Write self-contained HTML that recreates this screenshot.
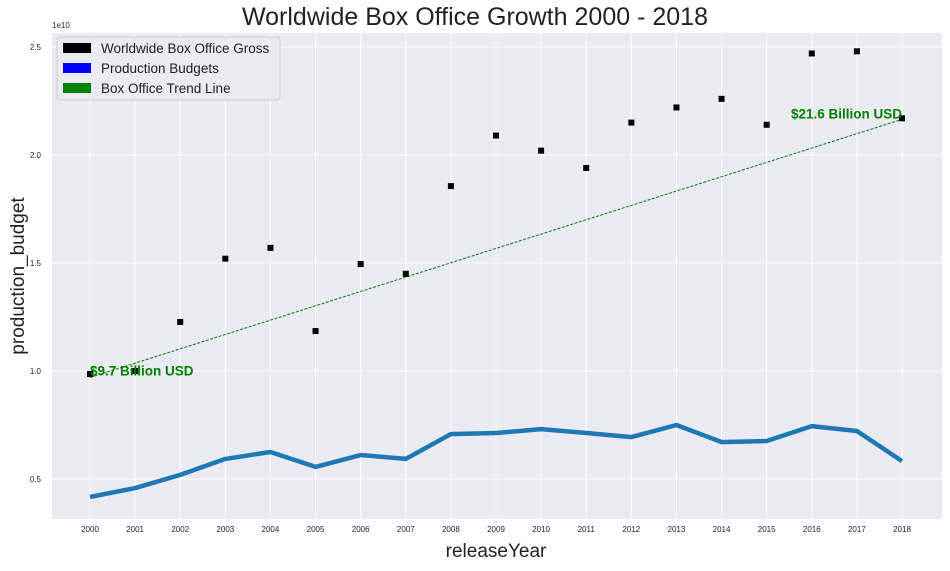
<!DOCTYPE html>
<html><head><meta charset="utf-8"><style>
body{margin:0;background:#fff;width:950px;height:566px;overflow:hidden;font-family:"Liberation Sans",sans-serif;}
</style></head><body>
<svg id="chart" width="950" height="566" xmlns="http://www.w3.org/2000/svg">
<rect x="52" y="33" width="890" height="486" fill="#eaeaf2"/>
<g id="grid"></g>
<g id="marks"></g>
<text x="475" y="25" text-anchor="middle" font-size="25" fill="#222">Worldwide Box Office Growth 2000 - 2018</text>
<text x="496" y="557" text-anchor="middle" font-size="19" fill="#222">releaseYear</text>
<text x="24" y="276" text-anchor="middle" font-size="19" fill="#222" transform="rotate(-90 24 276)">production_budget</text>
<text x="52" y="28" font-size="8" fill="#222">1e10</text>
<g>
<rect x="57" y="37" width="223" height="63" rx="3" fill="#eaeaf2" stroke="#ccc" opacity="0.9"/>
<rect x="63" y="43" width="28" height="10" fill="#000"/>
<text x="101" y="53" font-size="13.5" fill="#222">Worldwide Box Office Gross</text>
<rect x="63" y="63" width="28" height="10" fill="#0000ff"/>
<text x="101" y="73" font-size="13.5" fill="#222">Production Budgets</text>
<rect x="63" y="83" width="28" height="10" fill="#008000"/>
<text x="101" y="93" font-size="13.5" fill="#222">Box Office Trend Line</text>
</g>
</svg>
<script>
const years=[2000,2001,2002,2003,2004,2005,2006,2007,2008,2009,2010,2011,2012,2013,2014,2015,2016,2017,2018];
const gross=[0.986,1.0,1.227,1.52,1.57,1.185,1.495,1.45,1.856,2.09,2.02,1.94,2.15,2.22,2.26,2.14,2.47,2.48,2.17];
const budgets=[0.417,0.458,0.519,0.593,0.625,0.556,0.611,0.593,0.708,0.713,0.731,0.713,0.694,0.75,0.671,0.676,0.745,0.722,0.583];
const trend=[0.97,2.165];
const yTicks=[0.5,1.0,1.5,2.0,2.5];
const labels=["$9.7 Billion USD","$21.6 Billion USD"];
const NS="http://www.w3.org/2000/svg";
const xs=y=>90+(y-2000)*(902-90)/18;
const ys=v=>371-(v-1.0)*216;
const grid=document.getElementById('grid'),marks=document.getElementById('marks');
function mk(tag,attrs,parent){const e=document.createElementNS(NS,tag);for(const k in attrs)e.setAttribute(k,attrs[k]);parent.appendChild(e);return e;}
yTicks.forEach(t=>{
 const l=mk('line',{x1:52,x2:942,y1:ys(t),y2:ys(t),stroke:'#fff','stroke-width':1},grid);
 
 
 const tx=mk('text',{x:41,y:ys(t)+3,'text-anchor':'end','font-size':8,fill:'#222'},grid);
 tx.textContent=t.toFixed(1);
 
 
});
years.forEach(y=>{
 const l=mk('line',{x1:xs(y),x2:xs(y),y1:33,y2:519,stroke:'#fff','stroke-width':1},grid);
 
 
 const tx=mk('text',{x:xs(y),y:532,'text-anchor':'middle','font-size':8,fill:'#222'},grid);
 tx.textContent=y;
 
 
});
const tl=mk('line',{x1:xs(years[0]),y1:ys(trend[0]),x2:xs(years[years.length-1]),y2:ys(trend[1]),stroke:'#008000','stroke-width':1,'stroke-dasharray':'3,1.5'},marks);


const bl=mk('polyline',{points:years.map((y,i)=>xs(y)+','+ys(budgets[i])).join(' '),fill:'none',stroke:'#1f77b4','stroke-width':4.5,'stroke-linejoin':'round'},marks);


years.forEach((y,i)=>{
 const r=mk('rect',{x:xs(y)-3,y:ys(gross[i])-3,width:6,height:6,fill:'#000'},marks);
 
 
});
const a1=mk('text',{x:xs(2000),y:ys(trend[0])-2,'font-size':13.5,'font-weight':'bold',fill:'#008000'},marks);
a1.textContent=labels[0];


const a2=mk('text',{x:xs(2018),y:ys(trend[1])-1,'text-anchor':'end','font-size':13.5,'font-weight':'bold',fill:'#008000'},marks);
a2.textContent=labels[1];


</script>
</body></html>
